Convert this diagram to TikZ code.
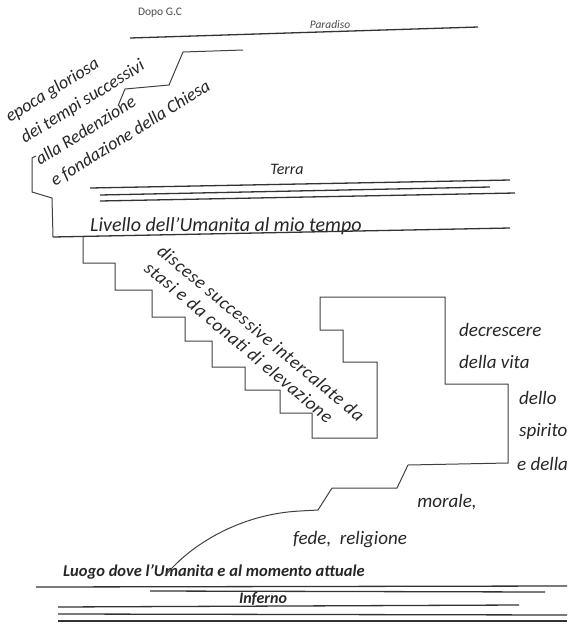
\documentclass[tikz,border=0pt]{standalone}
\usepackage{fontspec}
\setmainfont{Carlito}
\newfontfamily\descentfont[LetterSpace=4]{Carlito}
\usetikzlibrary{positioning}

\begin{document}
\begin{tikzpicture}[x=1pt,y=-1pt,
				handtext/.style={font=\itshape\fontsize{19}{22}\selectfont, text=black!85, inner sep=0pt},
				smalltext/.style={font=\fontsize{11.5}{13}\selectfont, text=black!70, inner sep=0pt},
				slanttext/.style={font=\itshape\fontsize{18}{20}\selectfont, text=black!85, inner sep=0pt, anchor=base west},
				descenttext/.style={slanttext, rotate=-40, font=\descentfont\itshape\fontsize{18.5}{20}\selectfont},
				levelline/.style={draw=black!80, line width=1.3pt},
				stairline/.style={draw=black!75, line width=1pt},
				]
		\useasboundingbox (0,0) rectangle (580,630);

				%Nodes
				\node[smalltext]		(dopo)		at (160,13)		{Dopo G.C};
				\node[smalltext, font=\itshape\fontsize{11.5}{13}\selectfont]	(paradiso)	at (330,25)	{Paradiso};
				\node[slanttext, rotate=32]	(epoca)		at (10,123)		{epoca gloriosa};
				\node[slanttext, rotate=32]	(tempi)		at (25,144)		{dei tempi successivi};
				\node[slanttext, rotate=32]	(redenz)	at (40,166)		{alla Redenzione};
				\node[slanttext, rotate=32]	(chiesa)	at (55,187)		{e fondazione della Chiesa};
				\node[handtext, font=\itshape\fontsize{16}{19}\selectfont]	(terra)	at (287,169)	{Terra};
				\node[handtext, anchor=base west, font=\itshape\fontsize{20}{22}\selectfont]	(livello)	at (90,231)	{Livello dell'Umanita al mio tempo};
				\node[descenttext]	(discese)	at (156,253)	{discese successive intercalate da};
				\node[descenttext]	(stasi)		at (143,270)	{stasi e da conati di elevazione};
				\node[handtext, anchor=west]	(decr)		at (459,330)	{decrescere};
				\node[handtext, anchor=west]	(vita)		at (459,362)	{della vita};
				\node[handtext, anchor=west]	(dello)		at (519,398)	{dello};
				\node[handtext, anchor=west]	(spirito)	at (519,431)	{spirito};
				\node[handtext, anchor=west]	(edella)	at (517,464)	{e della};
				\node[handtext]			(morale)	at (447,502)	{morale,};
				\node[handtext]			(fede)		at (350,540)	{fede,\ \ religione};
				\node[handtext, font=\bfseries\itshape\fontsize{16.5}{19}\selectfont]	(luogo)	at (214,572)	{Luogo dove l'Umanita e al momento attuale};
				\node[handtext, font=\bfseries\itshape\fontsize{16}{19}\selectfont]	(inferno)	at (263,599)	{Inferno};

				%Lines
				\draw[levelline]	(130,38) -- (478,27);
				\draw[stairline]	(243,50) -- (183,52) -- (169,85) -- (125,89) -- (118,106);
				\draw[levelline]	(90,188) -- (510,180);
				\draw[levelline]	(100,195) -- (490,187);
				\draw[levelline]	(100,201) -- (515,193);
				\draw[stairline]	(36,156) -- (32,158) -- (32,192) -- (52,198) -- (53,237);
				\draw[levelline]	(53,237) -- (510,228);
				\draw[stairline]	(83,237) -- (83,263) -- (115,263) -- (115,290) -- (152,290) -- (152,317)
								-- (185,317) -- (185,341) -- (212,341) -- (212,367) -- (245,367) -- (245,390)
								-- (280,390) -- (280,413) -- (312,413) -- (312,438) -- (377,438) -- (377,362)
								-- (343,362) -- (343,330) -- (320,330) -- (320,297) -- (445,297) -- (445,384)
								-- (508,384) -- (508,463) -- (408,465) -- (397,488) -- (332,488) -- (318,510)
								-- (300,511) .. controls (240,514) and (190,545) .. (165,576);
				\draw[levelline]	(36,587) -- (567,586);
				\draw[levelline]	(150,591) -- (545,592);
				\draw[levelline]	(58,607) -- (519,605);
				\draw[levelline]	(58,614) -- (567,615);
				\draw[levelline]	(58,621) -- (567,621);
			\end{tikzpicture}
\end{document}
